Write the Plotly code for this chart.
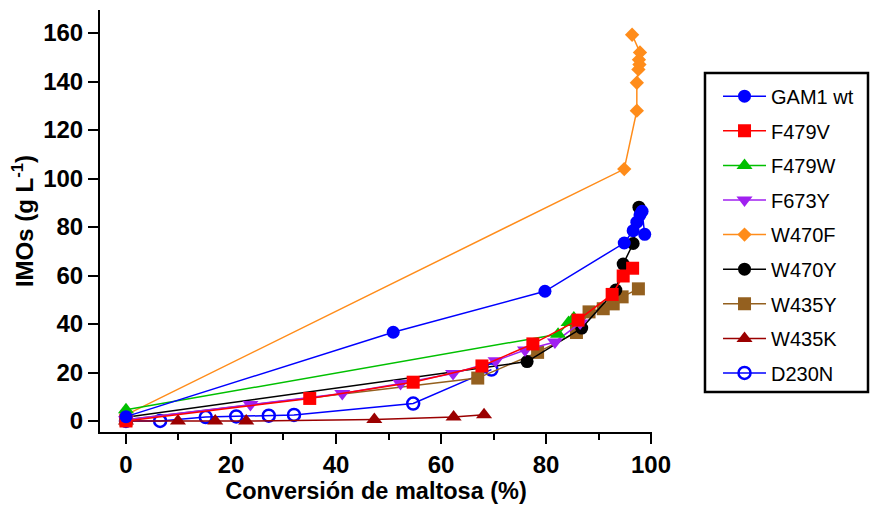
import plotly.graph_objects as go

names = ["GAM1 wt", "F479V", "F479W", "F673Y", "W470F", "W470Y", "W435Y", "W435K", "D230N"]

gam1_x = [0, 50.9, 79.8, 94.9, 96.6, 97.3, 97.9, 98.3, 98.8]
gam1_y = [1.8, 36.6, 53.5, 73.4, 78.5, 82.0, 85.0, 86.5, 77.0]

f479v_x = [0, 35.0, 54.7, 67.8, 77.5, 86.1, 92.6, 94.7, 96.5]
f479v_y = [0, 9.3, 16.0, 22.7, 31.8, 41.6, 52.2, 59.8, 63.0]

f479w_x = [0, 82.3, 84.3, 85.3]
f479w_y = [4.6, 35.8, 40.6, 42.5]

f673y_x = [0, 23.7, 41.2, 52.3, 62.3, 70.4, 76.0, 81.7, 86.5]
f673y_y = [0.5, 6.8, 11.3, 15.5, 19.6, 24.8, 29.3, 32.6, 40.4]

w470f_x = [0, 94.9, 97.3, 97.3, 97.6, 97.8, 97.7, 97.9, 96.4]
w470f_y = [2.5, 103.9, 128.0, 139.5, 145.0, 147.0, 149.0, 152.0, 159.3]

w470y_x = [0, 76.4, 86.8, 93.3, 94.7, 96.6, 97.7]
w470y_y = [1.5, 24.5, 38.3, 54.0, 64.7, 73.2, 88.2]

w435y_x = [0, 67.0, 78.4, 85.8, 88.2, 90.9, 92.8, 94.5, 97.6]
w435y_y = [0.5, 17.7, 28.3, 36.5, 45.0, 46.3, 48.3, 51.2, 54.5]

w435k_x = [0, 9.9, 17.0, 22.9, 47.3, 62.4, 68.2]
w435k_y = [0, 0, 0, 0, 0.6, 1.6, 2.6]

d230n_x = [0, 6.5, 15.2, 21.0, 27.2, 32.0, 54.7, 69.6]
d230n_y = [0, 0, 1.6, 1.9, 2.2, 2.5, 7.2, 21.2]

x_ticks = [0, 20, 40, 60, 80, 100]
x_minor = [10, 30, 50, 70, 90]
y_ticks = [0, 20, 40, 60, 80, 100, 120, 140, 160]

xs = [gam1_x, f479v_x, f479w_x, f673y_x, w470f_x, w470y_x, w435y_x, w435k_x, d230n_x]
ys = [gam1_y, f479v_y, f479w_y, f673y_y, w470f_y, w470y_y, w435y_y, w435k_y, d230n_y]
colors = ["#0000FF", "#FF0000", "#00C000", "#A020F0", "#FF8C1A", "#000000", "#94601F", "#9B0000", "#0000FF"]
symbols = ["circle", "square", "triangle-up", "triangle-down", "diamond", "circle", "square", "triangle-up", "circle-open"]
sizes = [13, 13, 14, 14, 11, 13, 13, 14, 12]

FONT = "Liberation Sans, Arial, sans-serif"

fig = go.Figure()
for i in reversed(range(len(names))):
    mk = dict(symbol=symbols[i], size=sizes[i], color=colors[i])
    if symbols[i] == "circle-open":
        mk["line"] = dict(width=2.5, color=colors[i])
    else:
        mk["line"] = dict(width=0)
    fig.add_trace(go.Scatter(
        x=xs[i], y=ys[i], name=names[i], mode="lines+markers",
        line=dict(color=colors[i], width=1.5), marker=mk,
        legendgroup=names[i], legendrank=i + 1, cliponaxis=False,
    ))

# legend frame
fig.add_shape(type="rect", xref="paper", yref="paper",
              x0=1.096, x1=1.3913, y0=0.0948, y1=0.8507,
              line=dict(color="black", width=2.5), fillcolor="rgba(0,0,0,0)")

fig.update_layout(
    width=870, height=509,
    margin=dict(l=100, r=218, t=10, b=77),
    paper_bgcolor="white", plot_bgcolor="white",
    font=dict(family=FONT, color="black"),
    legend=dict(
        x=1.1196, y=0.842, xanchor="left", yanchor="top",
        traceorder="grouped", tracegroupgap=5.6,
        borderwidth=0, bgcolor="rgba(0,0,0,0)", itemwidth=43,
        font=dict(size=20, color="black", family=FONT),
    ),
    xaxis=dict(
        range=[-4.95, 100.19], showgrid=False, zeroline=False,
        showline=True, linecolor="black", linewidth=2,
        ticks="outside", ticklen=10, tickwidth=2, tickcolor="black",
        tickvals=x_ticks,
        minor=dict(tickvals=x_minor, ticks="outside", ticklen=6, tickwidth=2, tickcolor="black"),
        tickfont=dict(size=24, family=FONT, weight="bold"),
        title=dict(text="<b>Conversión de maltosa (%)</b>", font=dict(size=23.5, family=FONT), standoff=6),
    ),
    yaxis=dict(
        range=[-4.54, 169.5], showgrid=False, zeroline=False,
        showline=True, linecolor="black", linewidth=2,
        ticks="outside", ticklen=10, tickwidth=2, tickcolor="black",
        tickvals=y_ticks,
        tickfont=dict(size=24, family=FONT, weight="bold"),
        title=dict(text="<b>IMOs (g L<sup>-1</sup>)</b>", font=dict(size=24, family=FONT), standoff=3),
    ),
)

fig.write_html("out.html")
